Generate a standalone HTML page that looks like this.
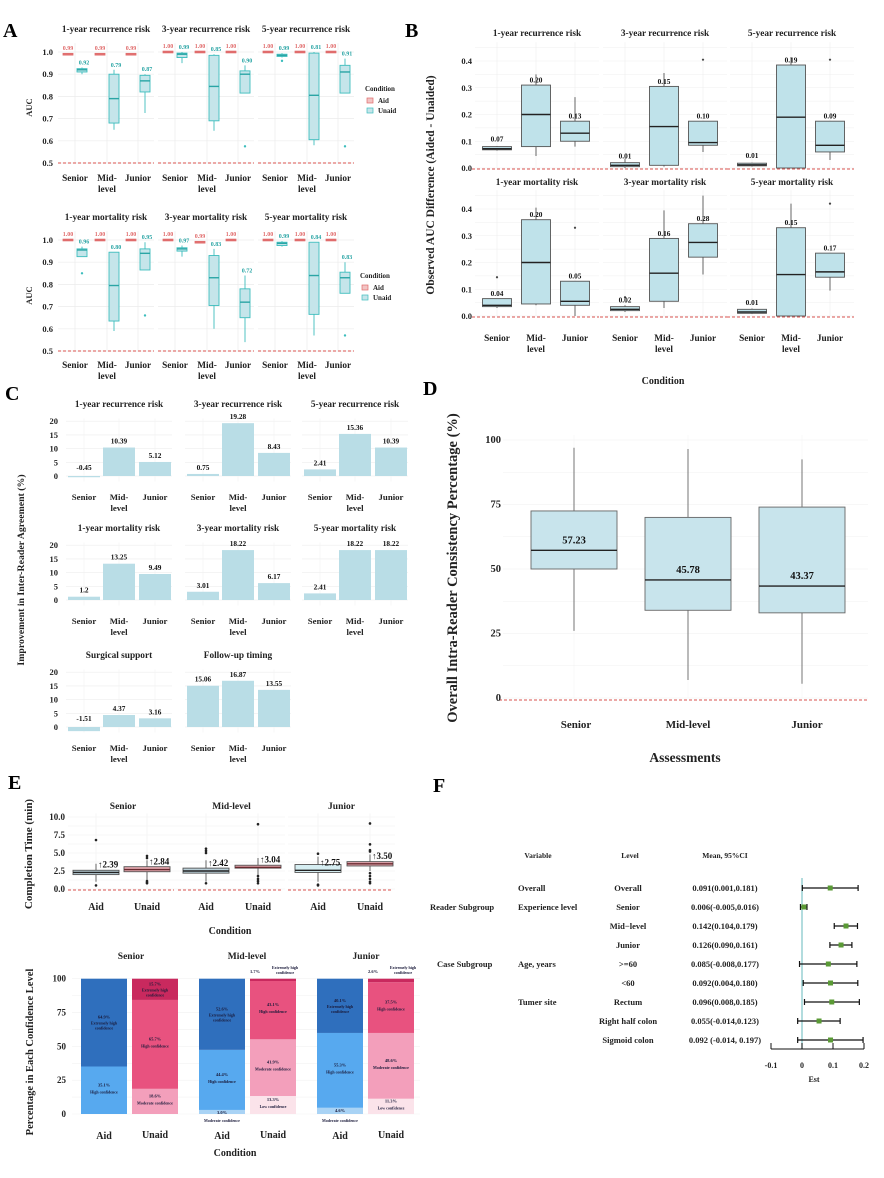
<!DOCTYPE html>
<html><head><meta charset="utf-8"><style>
html,body{margin:0;padding:0;background:#fff}
svg{display:block;font-family:"Liberation Serif",serif;font-weight:bold}
</style></head><body>
<svg id="fig" width="884" height="1178" viewBox="0 0 884 1178" xmlns="http://www.w3.org/2000/svg"></svg>
<script>
// ---------- DATA ----------
const catsReader = ['Senior','Mid-level','Junior'];
const aTitles = ['1-year recurrence risk','3-year recurrence risk','5-year recurrence risk','1-year mortality risk','3-year mortality risk','5-year mortality risk'];
const aAid = [[0.99,0.99,0.99],[1.00,1.00,1.00],[1.00,1.00,1.00],[1.00,1.00,1.00],[1.00,0.99,1.00],[1.00,1.00,1.00]];
const aUnaid = [
 [[0.91,0.92,0.925,0.90,0.93],[0.68,0.79,0.90,0.65,0.92],[0.82,0.87,0.895,0.725,0.90]],
 [[0.975,0.99,0.995,0.95,1.0],[0.69,0.845,0.985,0.645,0.99],[0.815,0.90,0.915,0.815,0.94]],
 [[0.98,0.985,0.99,0.975,0.995],[0.605,0.805,0.995,0.58,1.0],[0.815,0.91,0.94,0.815,0.97]],
 [[0.925,0.955,0.96,0.925,0.97],[0.635,0.795,0.945,0.59,0.945],[0.865,0.94,0.96,0.865,0.99]],
 [[0.95,0.96,0.965,0.925,0.975],[0.705,0.83,0.93,0.60,0.96],[0.65,0.72,0.78,0.54,0.84]],
 [[0.975,0.985,0.99,0.97,0.995],[0.665,0.84,0.99,0.57,0.99],[0.76,0.83,0.855,0.76,0.90]]];
const aOutliers = [[[],[],[]],[[],[],[0.575]],[[0.96],[],[0.575]],[[0.85],[],[0.66]],[[],[],[]],[[],[],[0.57]]];
const aAidLabels = [['0.99','0.99','0.99'],['1.00','1.00','1.00'],['1.00','1.00','1.00'],['1.00','1.00','1.00'],['1.00','0.99','1.00'],['1.00','1.00','1.00']];
const aUnaidLabels = [['0.92','0.79','0.87'],['0.99','0.85','0.90'],['0.99','0.81','0.91'],['0.96','0.80','0.95'],['0.97','0.83','0.72'],['0.99','0.84','0.83']];
const aTicks = [0.5,0.6,0.7,0.8,0.9,1.0];
const bBoxes = [
 [[0.068,0.072,0.08,0.065,0.082],[0.08,0.20,0.31,0.045,0.35],[0.10,0.13,0.175,0.08,0.265]],
 [[0.005,0.01,0.02,0.0,0.035],[0.01,0.155,0.305,0.005,0.355],[0.085,0.095,0.175,0.06,0.175]],
 [[0.008,0.012,0.018,0.005,0.02],[0.0,0.19,0.385,0.0,0.415],[0.06,0.085,0.175,0.03,0.175]],
 [[0.035,0.04,0.065,0.03,0.065],[0.045,0.20,0.36,0.04,0.405],[0.04,0.055,0.13,0.0,0.13]],
 [[0.02,0.025,0.035,0.015,0.04],[0.055,0.16,0.29,0.03,0.395],[0.22,0.275,0.345,0.155,0.45]],
 [[0.01,0.015,0.025,0.008,0.028],[0.0,0.155,0.33,0.0,0.42],[0.145,0.165,0.235,0.095,0.235]]];
const bOutliers = [[[],[],[]],[[],[],[0.405]],[[],[],[0.405]],[[0.145],[],[0.33]],[[0.07],[],[]],[[],[],[0.42]]];
const bLabels = [['0.07','0.20','0.13'],['0.01','0.15','0.10'],['0.01','0.19','0.09'],['0.04','0.20','0.05'],['0.02','0.16','0.28'],['0.01','0.15','0.17']];
const bTicks = [0.0,0.1,0.2,0.3,0.4];
const cTitles = ['1-year recurrence risk','3-year recurrence risk','5-year recurrence risk','1-year mortality risk','3-year mortality risk','5-year mortality risk','Surgical support','Follow-up timing'];
const cValues = [[-0.45,10.39,5.12],[0.75,19.28,8.43],[2.41,15.36,10.39],[1.2,13.25,9.49],[3.01,18.22,6.17],[2.41,18.22,18.22],[-1.51,4.37,3.16],[15.06,16.87,13.55]];
const cLabels = [['-0.45','10.39','5.12'],['0.75','19.28','8.43'],['2.41','15.36','10.39'],['1.2','13.25','9.49'],['3.01','18.22','6.17'],['2.41','18.22','18.22'],['-1.51','4.37','3.16'],['15.06','16.87','13.55']];
const cTicks = [0,5,10,15,20];
const dBoxes = [[50,57.23,72.5,26,97],[34,45.78,70,7,96.5],[33,43.37,74,5.5,92.5]];
const dLabels = ['57.23','45.78','43.37'];
const dTicks = [0,25,50,75,100];
const eAid = [[2.0,2.3,2.6,1.0,3.5],[2.2,2.5,2.9,1.0,4.0],[2.3,2.6,3.4,1.0,4.5]];
const eUnaid = [[2.4,2.7,3.1,1.2,4.0],[2.9,3.0,3.3,1.5,4.3],[3.2,3.5,3.8,2.5,4.8]];
const eAidOut = [[6.8,0.5],[5.6,5.3,5.0,0.8],[4.9,0.6,0.5]];
const eUnaidOut = [[4.6,4.3,1.1,0.9,0.8],[9.0,1.8,1.4,1.1,0.8],[9.1,6.2,5.4,5.2,2.2,1.8,1.4,1.0,0.8]];
const eAidLabels = ['2.39','2.42','2.75'];
const eUnaidLabels = ['2.84','3.04','3.50'];
const eTicks = [0,2.5,5,7.5,10];
const eTickLabels = ['0.0','2.5','5.0','7.5','10.0'];
const sAid = [[0,35.1,64.9],[3.0,44.4,52.6],[4.6,55.3,40.1]];
const sUnaid = [[0,18.6,65.7,15.7],[13.3,41.9,43.1,1.7],[11.3,48.6,37.5,2.6]];
const sTicks = [0,25,50,75,100];
const fLevels = ['Overall','Senior','Mid\u2212level','Junior','>=60','<60','Rectum','Right half colon','Sigmoid colon'];
const fVars = ['Overall','Experience level','','','Age, years','','Tumer site','',''];
const fMean = [0.091,0.006,0.142,0.126,0.085,0.092,0.096,0.055,0.092];
const fLo = [0.001,-0.005,0.104,0.090,-0.008,0.004,0.008,-0.014,-0.014];
const fHi = [0.181,0.016,0.179,0.161,0.177,0.180,0.185,0.123,0.197];
const fCI = ['0.091(0.001,0.181)','0.006(-0.005,0.016)','0.142(0.104,0.179)','0.126(0.090,0.161)','0.085(-0.008,0.177)','0.092(0.004,0.180)','0.096(0.008,0.185)','0.055(-0.014,0.123)','0.092 (-0.014, 0.197)'];
const fTicks = [-0.1,0,0.1,0.2];
const fTickLabels = ['-0.1','0','0.1','0.2'];

// ---------- HELPERS ----------
const NS='http://www.w3.org/2000/svg';
const svg=document.getElementById('fig');
function mk(tag,attrs,parent){const e=document.createElementNS(NS,tag);for(const k in attrs)e.setAttribute(k,attrs[k]);(parent||svg).appendChild(e);return e;}
function nm(el,name){
  
  
  return el;
}
function T(x,y,s,size,opt){opt=opt||{};const e=mk('text',{x:x,y:y,'font-size':size,'text-anchor':opt.anchor||'middle',fill:opt.fill||'#222'});if(opt.rot)e.setAttribute('transform','rotate(-90 '+x+' '+y+')');e.textContent=s;return e;}
function L(x1,y1,x2,y2,st,w,dash){const e=mk('line',{x1:x1,y1:y1,x2:x2,y2:y2,stroke:st,'stroke-width':w||1});if(dash)e.setAttribute('stroke-dasharray',dash);return e;}
function R(x,y,w,h,fill,st,sw){return mk('rect',{x:x,y:Math.min(y,y+h),width:w,height:Math.abs(h),fill:fill,stroke:st||'none','stroke-width':sw||0});}
function catLabels(cx,y,size){
  nm(T(cx[0],y,'Senior',size),'x-label-senior');
  nm(T(cx[1],y,'Mid-',size),'x-label-mid');
  nm(T(cx[1],y+11,'level',size),'x-label-mid-line2');
  nm(T(cx[2],y,'Junior',size),'x-label-junior');
}
function box(cx,w,b,ys,fill,st,medSt,name){
  nm(L(cx,ys(b[3]),cx,ys(b[0]),st,0.9),name+'-whisker-low');
  nm(L(cx,ys(b[2]),cx,ys(b[4]),st,0.9),name+'-whisker-high');
  nm(R(cx-w/2,ys(b[2]),w,ys(b[0])-ys(b[2]),fill,st,0.9),name+'-box');
  nm(L(cx-w/2,ys(b[1]),cx+w/2,ys(b[1]),medSt,1.4),name+'-median');
}
function dot(x,y,r,c,name){nm(mk('circle',{cx:x,cy:y,r:r,fill:c}),name);}

[['A',3,37],['B',405,37],['C',5,400],['D',423,395],['E',8,789],['F',433,792]].forEach(p=>{nm(T(p[1],p[2],p[0],20,{anchor:'start',fill:'#000'}),'panel-letter-'+p[0]);});

// ---------- PANEL A ----------
const aLeft=[58,158,258], aOff=[17,49,80];
const aRowTop=[52,240];
for(let f=0;f<6;f++){
  const row=Math.floor(f/3), col=f%3, L0=aLeft[col], W=96;
  const ys=v=>aRowTop[row]+(1-v)*222;
  aTicks.forEach(t=>{nm(L(L0,ys(t),L0+W,ys(t),'#ececec',0.7),'a-gridline');});
  const cx=aOff.map(o=>L0+o);
  cx.forEach(x=>nm(L(x,ys(1.04),x,ys(0.5),'#ececec',0.7),'a-vgrid'));
  nm(L(L0,ys(0.5),L0+W,ys(0.5),'#d9534f',0.9,'3,2'),'a-reference-line');
  nm(T(L0+W/2,aRowTop[row]-20,aTitles[f],9.3),'a-facet-title');
  for(let c=0;c<3;c++){
    const xa=cx[c]-7, xu=cx[c]+7, v=aAid[f][c];
    nm(R(xa-5,ys(v+0.004),10,ys(v-0.004)-ys(v+0.004),'#f2c4c4','#e06c6c',0.8),'a-aid-box');
    nm(L(xa-5,ys(v),xa+5,ys(v),'#e06c6c',1.3),'a-aid-median');
    nm(T(xa,ys(v)-4,aAidLabels[f][c],6,{fill:'#e06c6c'}),'a-aid-label');
    const b=aUnaid[f][c];
    box(xu,10,b,ys,'#c5e5ea','#3dbdbd','#2aa5a5','a-unaid');
    aOutliers[f][c].forEach(o=>dot(xu,ys(o),1.2,'#3dbdbd','a-outlier'));
    nm(T(xu+2,ys(b[4])-3,aUnaidLabels[f][c],6,{fill:'#2aa5a5'}),'a-unaid-label');
  }
  if(col===0){
    aTicks.forEach(t=>nm(T(53,ys(t)+3,t.toFixed(1),8.5,{anchor:'end'}),'a-y-tick'));
    nm(T(32,ys(0.75),'AUC',8.5,{rot:true}),'a-y-title');
  }
  catLabels(cx,row===0?181:368,9.3);
}
[[91,'a-legend-top'],[278,'a-legend-bottom']].forEach((g,i)=>{
  const x=i===0?365:360, y=g[0];
  nm(T(x,y,'Condition',7,{anchor:'start'}),g[1]+'-title');
  nm(R(x+2,y+7,6,5,'#f2c4c4','#e06c6c',0.7),g[1]+'-aid-key');
  nm(T(x+13,y+12,'Aid',7,{anchor:'start'}),g[1]+'-aid-text');
  nm(R(x+2,y+17,6,5,'#c5e5ea','#3dbdbd',0.7),g[1]+'-unaid-key');
  nm(T(x+13,y+22,'Unaid',7,{anchor:'start'}),g[1]+'-unaid-text');
});

// ---------- PANEL B ----------
const bLeft=[475,603,730], bOff=[22,61,100], bZero=[168,316];
for(let f=0;f<6;f++){
  const row=Math.floor(f/3), col=f%3, L0=bLeft[col], W=124;
  const ys=v=>bZero[row]-v*267.5;
  for(let t=0;t<=0.45;t+=0.05) nm(L(L0,ys(t),L0+W,ys(t),'#efefef',0.6),'b-gridline');
  const cx=bOff.map(o=>L0+o);
  cx.forEach(x=>nm(L(x,ys(0.47),x,ys(0),'#efefef',0.6),'b-vgrid'));
  nm(L(L0-3,ys(0)+1,L0+W,ys(0)+1,'#d9534f',0.9,'3,2'),'b-reference-line');
  nm(T(L0+W/2,row===0?36:185,aTitles[f],9.3),'b-facet-title');
  for(let c=0;c<3;c++){
    const b=bBoxes[f][c];
    box(cx[c],29,b,ys,'#bfe2ea','#555','#222','b-box');
    bOutliers[f][c].forEach(o=>dot(cx[c],ys(o),1.1,'#444','b-outlier'));
    const ly=Math.min(ys(b[1])-7,ys(b[2])-2.5);
    nm(T(cx[c],ly,bLabels[f][c],7.3,{fill:'#111'}),'b-median-label');
  }
  if(col===0) bTicks.forEach(t=>nm(T(472,ys(t)+3,t.toFixed(1),8.5,{anchor:'end'}),'b-y-tick'));
  if(row===1) catLabels(cx,341,9.3);
}
nm(T(663,384,'Condition',10),'b-x-title');
nm(T(434,185,'Observed AUC Difference (Aided - Unaided)',11.5,{rot:true}),'b-y-title');

// ---------- PANEL C ----------
const cLeft=[66,185,302], cOff=[18,53,89], cZero=[476,600,727];
for(let f=0;f<8;f++){
  const row=Math.floor(f/3), col=f%3, L0=cLeft[col], W=106;
  const ys=v=>cZero[row]-v*2.74;
  for(let t=0;t<=20;t+=5) nm(L(L0,ys(t),L0+W,ys(t),'#eeeeee',0.6),'c-gridline');
  const cx=cOff.map(o=>L0+o);
  cx.forEach(x=>nm(L(x,ys(21),x,ys(-2),'#f2f2f2',0.6),'c-vgrid'));
  nm(T(L0+W/2,cZero[row]-69,cTitles[f],9.3),'c-facet-title');
  for(let c=0;c<3;c++){
    const v=cValues[f][c];
    nm(R(cx[c]-16,ys(Math.max(v,0)),32,Math.abs(ys(v)-ys(0)),'#b9dde6'),'c-bar');
    nm(T(cx[c],ys(Math.max(v,0))-4-(v<0?2:0),cLabels[f][c],7.3,{fill:'#111'}),'c-bar-label');
  }
  if(col===0) cTicks.forEach(t=>nm(T(58,ys(t)+3,String(t),8.5,{anchor:'end'}),'c-y-tick'));
  catLabels(cx,cZero[row]+24,8.8);
}
nm(T(24,570,'Improvement in Inter-Reader Agreement (%)',9.8,{rot:true}),'c-y-title');

// ---------- PANEL D ----------
(function(){
  const ys=v=>698-v*2.58, L0=503, W=365, cx=[574,688,802];
  for(let t=0;t<=100;t+=12.5) nm(L(L0,ys(t),L0+W,ys(t),'#f0f0f0',0.6),'d-gridline');
  cx.forEach(x=>nm(L(x,ys(102),x,ys(0),'#f3f3f3',0.6),'d-vgrid'));
  nm(L(L0-4,ys(0)+2,L0+W,ys(0)+2,'#d9534f',0.9,'3,2'),'d-reference-line');
  dTicks.forEach(t=>nm(T(501,ys(t)+3,String(t),10.5,{anchor:'end'}),'d-y-tick'));
  dBoxes.forEach((b,i)=>{
    box(cx[i],86,b,ys,'#c8e4ec','#666','#222','d-box');
    nm(T(cx[i],ys(b[1])-7,dLabels[i],10.5,{fill:'#111'}),'d-median-label');
  });
  nm(T(576,728,'Senior',11),'d-x-label-senior');
  nm(T(688,728,'Mid-level',11),'d-x-label-mid');
  nm(T(807,728,'Junior',11),'d-x-label-junior');
  nm(T(685,762,'Assessments',13.5),'d-x-title');
  nm(T(457,568,'Overall  Intra-Reader  Consistency  Percentage (%)',14.5,{rot:true}),'d-y-title');
})();

// ---------- PANEL E TOP ----------
(function(){
  const ys=v=>889-v*7.2, fac=[[68,178],[178,285],[288,395]];
  const xa=[96,206,318], xu=[147,258,370], titles=['Senior','Mid-level','Junior'];
  for(let f=0;f<3;f++){
    for(let t=0;t<=10;t+=1.25) nm(L(fac[f][0],ys(t),fac[f][1],ys(t),'#f0f0f0',0.6),'e-gridline');
    [xa[f],xu[f]].forEach(x=>nm(L(x,ys(10.5),x,ys(0),'#f0f0f0',0.6),'e-vgrid'));
    nm(L(fac[f][0],ys(0)+1,fac[f][1]-4,ys(0)+1,'#d9534f',0.9,'3,2'),'e-reference-line');
    nm(T((fac[f][0]+fac[f][1])/2,809,titles[f],9.5),'e-facet-title');
    box(xa[f],46,eAid[f],ys,f===2?'#d6eef2':'#b9cfd8','#555','#222','e-aid-box');
    box(xu[f],46,eUnaid[f],ys,'#e3a7ae','#555','#6a2a30','e-unaid-box');
    eAidOut[f].forEach(o=>dot(xa[f],ys(o),1.3,'#222','e-aid-outlier'));
    eUnaidOut[f].forEach(o=>dot(xu[f],ys(o),1.3,'#222','e-unaid-outlier'));
    nm(T(xa[f]+2,ys(eAid[f][1])-5,'\u2191'+eAidLabels[f],9,{anchor:'start',fill:'#111'}),'e-aid-label');
    nm(T(xu[f]+2,ys(eUnaid[f][1])-5,'\u2191'+eUnaidLabels[f],9,{anchor:'start',fill:'#111'}),'e-unaid-label');
    nm(T(xa[f],910,'Aid',10),'e-x-label-aid');
    nm(T(xu[f],910,'Unaid',10),'e-x-label-unaid');
  }
  eTicks.forEach((t,i)=>nm(T(65,ys(t)+3,eTickLabels[i],9,{anchor:'end'}),'e-y-tick'));
  nm(T(230,934,'Condition',10),'e-x-title');
  nm(T(32,854,'Completion Time (min)',11,{rot:true}),'e-y-title');
})();

// ---------- PANEL E BOTTOM ----------
(function(){
  const ys=v=>1114-v*1.353;
  const xa=[104,222,340], xu=[155,273,391], titles=['Senior','Mid-level','Junior'], tx=[131,247,366];
  const aidCol=['#a9d3f5','#57a9ef','#2f6fbd'], aidName=['Moderate  confidence','High confidence','Extremely high confidence'];
  const unCol=['#fbe3ea','#f39fbb','#e8527f','#c9295e'], unName=['Low confidence','Moderate  confidence','High confidence','Extremely high confidence'];
  for(let t=0;t<=100;t+=12.5) nm(L(72,ys(t),420,ys(t),'#f2f2f2',0.6),'s-gridline');
  sTicks.forEach(t=>nm(T(66,ys(t)+3,String(t),9,{anchor:'end'}),'s-y-tick'));
  function stack(cx,vals,cols,names,pre){
    let acc=0;
    vals.forEach((v,i)=>{
      if(v<=0) return;
      const y0=ys(acc), y1=ys(acc+v);
      nm(R(cx-23,y1,46,y0-y1,cols[i]),pre+'-segment');
      const dark='#1a1a3a';
      if(v>=10){
        const m=(y0+y1)/2;
        nm(T(cx,m-4,v.toFixed(1)+'%',4.5,{fill:dark}),pre+'-segment-pct');
        if(names[i].indexOf('Extremely')===0){ nm(T(cx,m+2,'Extremely high',4,{fill:dark}),pre+'-segment-name');nm(T(cx,m+7,'confidence',4,{fill:dark}),pre+'-segment-name2'); }
        else nm(T(cx,m+3,names[i],4,{fill:dark}),pre+'-segment-name');
      }
      acc+=v;
    });
  }
  for(let f=0;f<3;f++){
    nm(T(tx[f],959,titles[f],9.5),'s-facet-title');
    stack(xa[f],sAid[f],aidCol,aidName,'s-aid');
    stack(xu[f],sUnaid[f],unCol,unName,'s-unaid');
    nm(T(xa[f],1139,'Aid',10),'s-x-label-aid');
    nm(T(xu[f],1138,'Unaid',10),'s-x-label-unaid');
    if(f>0){
      nm(T(xa[f],ys(sAid[f][0])+4,sAid[f][0].toFixed(1)+'%',4.5,{fill:'#1a1a3a'}),'s-small-pct');
      nm(T(xa[f],1122,'Moderate  confidence',4,{fill:'#1a1a3a'}),'s-small-name');
      const e=sUnaid[f][3];
      nm(T(xu[f]-18,973,e.toFixed(1)+'%',4.5,{fill:'#1a1a3a'}),'s-top-pct');
      nm(T(xu[f]+12,969,'Extremely high',4,{fill:'#1a1a3a'}),'s-top-name');
      nm(T(xu[f]+12,974,'confidence',4,{fill:'#1a1a3a'}),'s-top-name2');
    }
  }
  nm(T(235,1156,'Condition',10),'s-x-title');
  nm(T(33,1052,'Percentage  in  Each  Confidence  Level',10.5,{rot:true}),'s-y-title');
})();

// ---------- PANEL F ----------
(function(){
  const xs=v=>802+v*310, row0=888, dy=19;
  nm(T(538,858,'Variable',7.5),'f-header-variable');
  nm(T(630,858,'Level',7.5),'f-header-level');
  nm(T(725,858,'Mean, 95%CI',7.5),'f-header-ci');
  nm(T(430,910,'Reader Subgroup',8.5,{anchor:'start'}),'f-group-reader');
  nm(T(437,967,'Case   Subgroup',8.5,{anchor:'start'}),'f-group-case');
  nm(L(xs(0),878,xs(0),1049,'#7fc4c8',1.2),'f-zero-line');
  fMean.forEach((m,i)=>{
    const y=row0+i*dy;
    if(fVars[i]) nm(T(518,y+3,fVars[i],8.5,{anchor:'start'}),'f-variable-label');
    nm(T(628,y+3,fLevels[i],8.5),'f-level-label');
    nm(T(725,y+3,fCI[i],8.5),'f-ci-label');
    nm(L(xs(fLo[i]),y,xs(fHi[i]),y,'#111',1.2),'f-ci-line');
    nm(L(xs(fLo[i]),y-3,xs(fLo[i]),y+3,'#111',1.2),'f-ci-cap-low');
    nm(L(xs(fHi[i]),y-3,xs(fHi[i]),y+3,'#111',1.2),'f-ci-cap-high');
    nm(R(xs(m)-2.5,y-2.5,5,5,'#5a9a35'),'f-mean-marker');
  });
  nm(L(xs(-0.1),1049,xs(0.2),1049,'#111',1),'f-x-axis');
  fTicks.forEach((t,i)=>{
    nm(L(xs(t),1049,xs(t),1043,'#111',1),'f-x-tick');
    nm(T(xs(t),1068,fTickLabels[i],8),'f-x-tick-label');
  });
  nm(T(814,1082,'Est',8),'f-x-title');
})();
</script>
</body></html>
